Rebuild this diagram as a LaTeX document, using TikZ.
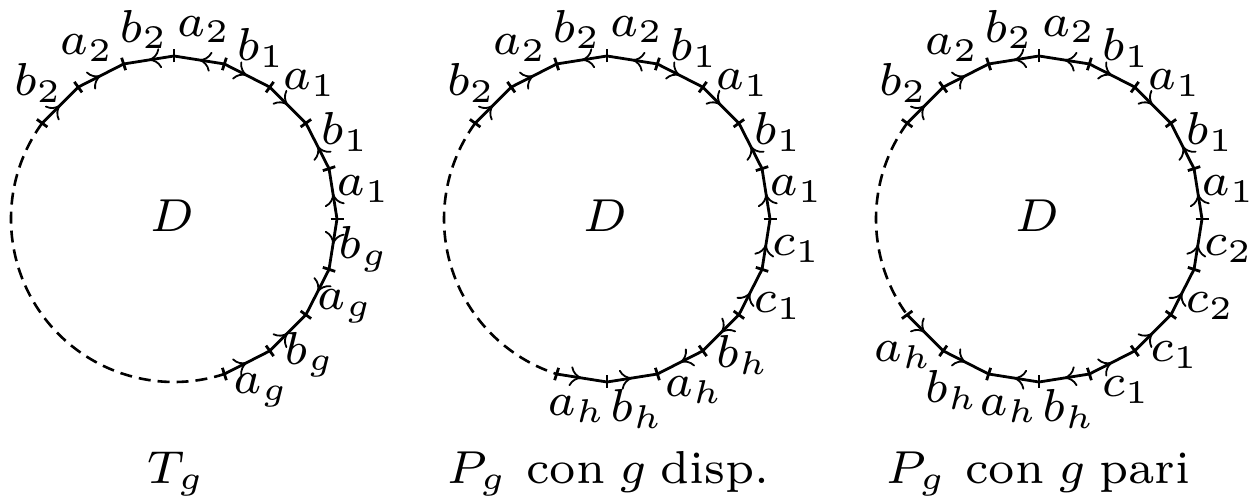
\documentclass[tikz,border=0pt]{standalone}
\usetikzlibrary{decorations.markings,arrows.meta,calc}
\begin{document}
\begin{tikzpicture}[x=0.5pt,y=0.5pt,
  edgeline/.style={line width=1.4pt, postaction={decorate},
    decoration={markings, mark=at position 0.5 with {\arrow{To[length=6pt,width=10pt,line width=0.9pt]}}}},
  tickline/.style={line width=1.4pt},
  dashline/.style={line width=1.3pt, dash pattern=on 6pt off 3.5pt},
  lbl/.style={font=\fontsize{7}{8}\selectfont, scale=3.3, inner sep=0pt},
  caplbl/.style={font=\fontsize{7}{8}\selectfont, scale=3.3, inner sep=0pt, anchor=base},
]
\useasboundingbox (0,0) rectangle (1251,497);

% centres and vertices of the three 20-gons
\foreach \k/\cx in {1/174, 2/607, 3/1039} {
  \coordinate (O\k) at (\cx,278);
  \foreach \i in {0,...,19} {
    \path (O\k) ++(\i*18:163) coordinate (V\k-\i);
  }
}

% dashed arcs
\draw[dashline] (V1-8) arc[start angle=144, end angle=288, radius=81.5pt];
\draw[dashline] (V2-8) arc[start angle=144, end angle=252, radius=81.5pt];
\draw[dashline] (V3-8) arc[start angle=144, end angle=216, radius=81.5pt];

% circle 1: T_g
\foreach \f/\t/\l/\m [count=\n] in {8/7/b_2/135, 7/6/a_2/117, 5/6/b_2/99, 4/5/a_2/81,
    4/3/b_1/63, 3/2/a_1/45, 1/2/b_1/27, 0/1/a_1/9,
    0/19/b_g/-9, 19/18/a_g/-27, 17/18/b_g/-45, 16/17/a_g/-63} {
  \draw[edgeline] (V1-\f) -- (V1-\t);
  \node[lbl] (L1-\n) at ($(O1)+(\m:192)$) {$\l$};
}
\foreach \a in {144,126,...,-72} {
  \draw[tickline] ($(O1)+(\a:156.5)$) -- ($(O1)+(\a:169.5)$);
}

% circle 2: P_g, g odd
\foreach \f/\t/\l/\m [count=\n] in {8/7/b_2/135, 7/6/a_2/117, 5/6/b_2/99, 4/5/a_2/81,
    4/3/b_1/63, 3/2/a_1/45, 1/2/b_1/27, 0/1/a_1/9,
    19/0/c_1/-9, 18/19/c_1/-27, 18/17/b_h/-45, 17/16/a_h/-63,
    15/16/b_h/-81, 14/15/a_h/-99} {
  \draw[edgeline] (V2-\f) -- (V2-\t);
  \node[lbl] (L2-\n) at ($(O2)+(\m:192)$) {$\l$};
}
\foreach \a in {144,126,...,-108} {
  \draw[tickline] ($(O2)+(\a:156.5)$) -- ($(O2)+(\a:169.5)$);
}

% circle 3: P_g, g even
\foreach \f/\t/\l/\m [count=\n] in {8/7/b_2/135, 7/6/a_2/117, 5/6/b_2/99, 4/5/a_2/81,
    4/3/b_1/63, 3/2/a_1/45, 1/2/b_1/27, 0/1/a_1/9,
    19/0/c_2/-9, 18/19/c_2/-27, 17/18/c_1/-45, 16/17/c_1/-63,
    16/15/b_h/-81, 15/14/a_h/-99, 13/14/b_h/-117, 12/13/a_h/-135} {
  \draw[edgeline] (V3-\f) -- (V3-\t);
  \node[lbl] (L3-\n) at ($(O3)+(\m:192)$) {$\l$};
}
\foreach \a in {144,126,...,-144} {
  \draw[tickline] ($(O3)+(\a:156.5)$) -- ($(O3)+(\a:169.5)$);
}

% D labels
\node[lbl] (D1) at ($(O1)+(-2,3)$) {$D$};
\node[lbl] (D2) at ($(O2)+(-2,3)$) {$D$};
\node[lbl] (D3) at ($(O3)+(-2,3)$) {$D$};

% captions
\node[caplbl] (cap1) at (176,14) {$T_g$};
\node[caplbl] (cap2) at (608,14) {$P_g$\hspace{0.4em}con\hspace{0.3em}$g$\hspace{0.3em}disp.};
\node[caplbl] (cap3) at (1038,14) {$P_g$\hspace{0.4em}con\hspace{0.3em}$g$\hspace{0.3em}pari};
\end{tikzpicture}
\end{document}
